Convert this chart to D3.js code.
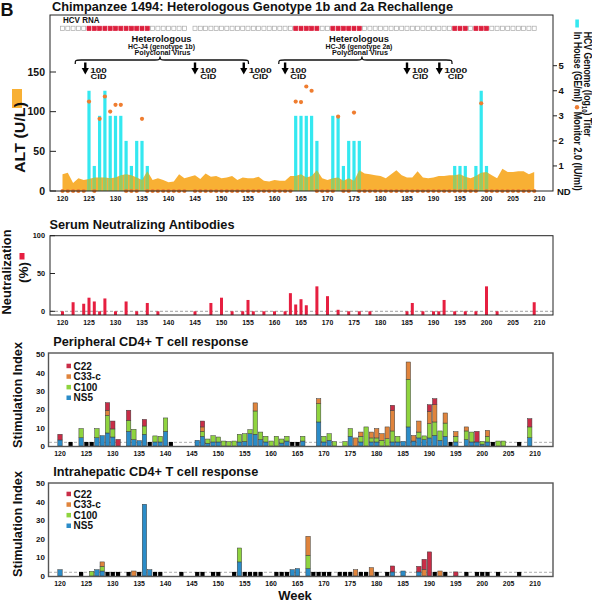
<!DOCTYPE html>
<html><head><meta charset="utf-8">
<script src="https://cdn.jsdelivr.net/npm/d3@7"></script>
<style>
body{margin:0;background:#fff}
svg{display:block}
text{font-family:"Liberation Sans",Arial,Helvetica,sans-serif;font-weight:bold;fill:#111}
</style></head>
<body><svg id="c" width="592" height="602"></svg>
<script>
// ---------------- DATA ----------------
const xTickWeeks = [120,125,130,135,140,145,150,155,160,165,170,175,180,185,190,195,200,205,210];
const altWeeks = [120,121,122,123,124,125,126,127,128,129,130,131,132,133,134,135,136,137,138,139,140,141,142,143,144,145,146,147,148,149,150,151,152,153,154,155,156,157,158,159,160,161,162,163,164,165,166,167,168,169,170,171,172,173,174,175,176,177,178,179,180,181,182,183,184,185,186,187,188,189,190,191,192,193,194,195,196,197,198,199,200,201,202,203,204,205,206,207,208,209];
const altValues = [21,23,10,16,14,15,17,17,17,16, 17,20,21,20,17,14,25,14,16,14, 11,12,21,16,18,20,15,22,18,19, 16,17,19,14,17,16,16,18,13,12, 14,13,13,19,19,21,17,19,26,16, 14,16,17,13,16,13,26,22,21,20, 19,16,21,26,20,17,17,25,17,16, 17,19,19,20,20,21,18,16,19,23, 24,20,16,28,24,24,25,25,21,24];
const sampleWeeks = [120,121,122,123,124,125,126,127,128,129,130,131,132,133,134,135,136,137,138,139,140,141,142,143,145,146,147,148,149,150,151,152,153,154,155,156,157,158,159,160,161,162,163,164,165,166,167,168,169,170,171,172,173,174,175,176,177,178,179,180,181,182,183,184,185,186,187,188,189,190,191,192,193,194,195,196,197,198,199,200,201,202,203,204,205,206,207,208,209];
const rnaPositiveWeeks = [125,126,127,128,129,130,131,132,133,134,135,136,164,165,166,167,168,171,172,173,174,175,176,194,195,196,198,199,200];
const inHouseWeeks = [125,126,127,128,129,130,131,132,133,134,135,136,164,165,166,167,168,171,172,173,174,175,176,194,195,196,198,199,200];
const inHouseLog   = [4,1,3,4,3,3,3,2,1,2,2,1, 3,3,3,3,2, 3,3,1,2,2,2, 1,1,1,1,4,1];
const monitorWeeks = [125,127,128,129,130,131,135,164,165,166,167,172,175,199];
const monitorLog   = [3.57,2.88,3.77,3.17,3.44,3.44,2.88,3.57,3.55,4.17,4.0,2.97,3.13,3.5];
const inocWeeks  = [124.3,145,154.2,162,185,191.1];
const inocDoses  = ["100","100","1000","100","100","1000"];
const virusLabels = [["Heterologous","HC-J4 (genotype 1b)","Polyclonal Virus"],["Heterologous","HC-J6 (genotype 2a)","Polyclonal Virus"]];
const braceWeeks = [[122.4,138.4,155.1],[160.8,176.5,193.5]];

const neutWeeks  = [120,122,124,125,126,127,128,130,132,134,136,138,145,148,150,152,154,155,156,158,160,162,163,164,165,166,168,170,172,174,176,178,185,186,188,190,191,192,194,196,198,200,202,209];
const neutValues = [0,12,10,18,13,0,17,0,13,0,11,0,0,11,18,0,0,15,0,0,0,0,24,9,16,8,33,20,2,0,0,0,0,11,0,0,0,15,0,0,0,33,0,12];

const antigens = ["NS5","C100","C33-c","C22"];
const antigenColors = ["#2b8cc8","#8fd43f","#e0843c","#c92d47"];
const legendOrder = ["C22","C33-c","C100","NS5"];

const periphWeeks = [120,124,127,128,129,130,131,133,134,135,136,138,139,140,146,147,148,149,150,151,152,153,154,155,156,157,158,159,160,161,162,163,166,169,170,171,172,174,175,176,177,178,179,180,181,182,183,184,185,186,187,188,189,190,191,192,193,195,197,198,199,200,201,203,204,209];
const periphNS5  = [3.3,4.5,4.5,5.6,7.1,4.9,0,8,3.5,2.9,6.4,2.2,2.2,8,3.1,5.3,1.5,2.2,2.2,0,0,0,2.2,2.5,6.7,6.4,3.5,2.2,0,0,1.6,2.7,2.7,13.1,2.2,3.1,0,0,5.3,0,2.2,0,2.2,2.2,0,0,2.2,2.2,2.5,10.4,2.7,4.4,3.5,4.4,5.8,3.1,5.3,2.2,3.5,2.2,2.2,1,2.2,0,0,4.5];
const periphC100 = [0,5,5,0,9.6,4.4,0,6,5.6,0,4.5,3.3,3.1,7.3,0,2.7,2.3,3.4,2.7,2.7,2.4,2.7,4.2,4.2,2.2,12.7,4.1,3.1,2.7,5.3,2.2,2.6,2.6,10,3.1,3.6,2.4,2.4,4.2,0,3.1,10.4,2.2,2.2,3.1,4,6,3.1,0,26,0,3.2,2,7.8,7.3,5.1,7.2,3.1,4.7,5.4,0,1.5,3.1,2.7,2.7,5.9];
const periphC33  = [0,0,0,0,2.8,0,0,0,0,0,0,0,0,0,0,2.4,0,0,0,0,0,0,0,0,0,4.4,0,0,0,0,0,0,0,2.7,0,0,0,0,0,4.4,2.3,0,3.2,5.1,3.6,6.4,11.3,0,0,9.4,3,6,0,6.7,9.4,0,5.5,2.5,2.2,0,0,0,3.2,0,0,0];
const periphC22  = [3.1,0,0,0,4.1,4.3,3.6,5.5,0,0,3.6,0,0,0,0,3.2,0,0,0,0,0,0,0,0,0,0,0,0,0,0,0,0,0,0,0,0,0,0,0,0,0,0,0,0,0,0,2.7,0,0,0,0,0,0,3.6,3.3,0,0,0,0,0,5.8,0,0,0,0,4.5];
const periphNegWeeks = [122,125,126,137,141,164,165,194,202,207];

const hepWeeks = [120,126,127,128,134,136,137,154,164,165,167,176,179,183,185,188,189,190,192,195];
const hepNS5   = [3.4,0,3.4,2.7,0,38.7,3.4,7.6,3.4,4,4,0,0,2.2,2.7,2.2,0,0,0,0];
const hepC100  = [0,2.5,0,2.5,0,0,0,7.5,0,0,7.2,0,0,0,0,0,0,0,0,0];
const hepC33   = [0,0,0,2.4,2.7,0,0,0,0,0,10.2,3.4,4.5,0,0,0,3.6,0,2.7,0];
const hepC22   = [0,0,0,0,0,0,0,0,0,0,0,0,0,3.2,0,3,5.4,13,0,2.2];
const hepNegWeeks = [124,129,130,131,133,135,138,139,143,146,147,149,150,153,155,156,157,158,161,162,163,168,169,170,171,173,174,175,177,178,180,182,191,193,197,199,200,201,203,207];
const negSI = 2.2;

const altTicks = [0,50,100,150];
const hcvTicks = [1,2,3,4,5];
const neutTicks = [0,50,100];
const siTicks = [0,10,20,30,40,50];

// ---------------- DRAW ----------------
const svg = d3.select("#c");
function T(p, x, y, s, size, o = {}) {
  const t = p.append("text").attr("font-size", size).text(s);
  if (o.rot != null) t.attr("transform", `translate(${x},${y}) rotate(${o.rot})`);
  else t.attr("x", x).attr("y", y);
  if (o.anchor) t.attr("text-anchor", o.anchor);
  if (o.len) t.attr("textLength", o.len).attr("lengthAdjust", "spacingAndGlyphs");
  if (o.fill) t.style("fill", o.fill);
  return t;
}

const xTop = d3.scaleLinear().domain([120, 210]).range([62.5, 539.5]);
const xCD  = d3.scaleLinear().domain([120, 210]).range([60, 535]);
const yAlt = d3.scaleLinear().domain([0, 150]).range([191, 72]);
const yHcv = d3.scaleLinear().domain([0, 5]).range([191, 65.7]);
const yNeu = d3.scaleLinear().domain([0, 100]).range([311.3, 235.7]);
const yP   = d3.scaleLinear().domain([0, 50]).range([446, 354.3]);
const yI   = d3.scaleLinear().domain([0, 50]).range([576, 483.3]);

T(svg, 0.5, 15.5, "B", 18);
T(svg, 52, 10.5, "Chimpanzee 1494: Heterologous Genotype 1b and 2a Rechallenge", 12.5, {len: 401});

// ===== Top panel =====
const tg = svg.append("g");
const altData = altWeeks.map((w, i) => ({w, v: altValues[i]}));
const area = d3.area().x(d => xTop(d.w)).y0(yAlt(0)).y1(d => yAlt(d.v));
svg.append("defs").append("clipPath").attr("id", "altClip").append("path").attr("d", area(altData));
tg.append("path").attr("d", area(altData)).attr("fill", "#f8b034");

const inHouse = inHouseWeeks.map((w, i) => ({w, v: inHouseLog[i]}));
const bw = 3.2;
tg.append("g").selectAll("rect").data(inHouse).join("rect")
  .attr("x", d => xTop(d.w) - bw / 2).attr("width", bw)
  .attr("y", d => yHcv(d.v)).attr("height", d => yHcv(0) - yHcv(d.v)).attr("fill", "#34e8f0");
tg.append("g").attr("clip-path", "url(#altClip)").selectAll("rect").data(inHouse).join("rect")
  .attr("x", d => xTop(d.w) - bw / 2).attr("width", bw)
  .attr("y", d => yHcv(d.v)).attr("height", d => yHcv(0) - yHcv(d.v)).attr("fill", "#9cc95c");

const monitor = sampleWeeks.map(w => {
  const i = monitorWeeks.indexOf(w);
  return {w, v: i >= 0 ? monitorLog[i] : 0};
});
tg.append("g").selectAll("circle").data(monitor).join("circle")
  .attr("cx", d => xTop(d.w)).attr("cy", d => yHcv(d.v)).attr("r", 2.1).attr("fill", "#ef7d30");

tg.append("rect").attr("x", 50).attr("y", 15).attr("width", 503).attr("height", 176)
  .attr("fill", "none").attr("stroke", "#222").attr("stroke-width", 1);

T(tg, 63, 23.3, "HCV RNA", 8.5, {len: 36.5});
tg.append("g").selectAll("rect").data(sampleWeeks).join("rect")
  .attr("x", w => xTop(w) - 2).attr("y", 26.2).attr("width", 4).attr("height", 4.4)
  .attr("fill", w => rnaPositiveWeeks.includes(w) ? "#dc1f3d" : "#fff")
  .attr("stroke", w => rnaPositiveWeeks.includes(w) ? "#dc1f3d" : "#aaa").attr("stroke-width", 0.7);

braceWeeks.forEach((b, i) => {
  const x1 = xTop(b[0]), xm = xTop(b[1]), x2 = xTop(b[2]);
  const y = 60, ye = 64, yp = 56.5;
  tg.append("path").attr("d",
    `M${x1},${ye} C${x1},${y} ${x1},${y} ${x1+6},${y} L${xm-5},${y} C${xm-1},${y} ${xm},${y} ${xm},${yp} C${xm},${y} ${xm+1},${y} ${xm+5},${y} L${x2-6},${y} C${x2},${y} ${x2},${y} ${x2},${ye}`)
    .attr("fill", "none").attr("stroke", "#111").attr("stroke-width", 1.3);
  const cx = xm + (i === 0 ? 1.5 : -3);
  T(tg, cx, 41.5, virusLabels[i][0], 9.5, {anchor: "middle", len: 60});
  T(tg, cx, 48.5, virusLabels[i][1], 7, {anchor: "middle", len: 67});
  T(tg, cx + 1, 54.6, virusLabels[i][2], 7, {anchor: "middle", len: 56});
});

inocWeeks.forEach((w, i) => {
  const x = xTop(w);
  tg.append("rect").attr("x", x - 1.2).attr("y", 62.5).attr("width", 2.4).attr("height", 6).attr("fill", "#000");
  tg.append("path").attr("d", `M${x-3.6},68 L${x+3.6},68 L${x},74.6 Z`).attr("fill", "#000");
  const L = inocDoses[i].length === 4 ? 23 : 16.5;
  T(tg, x + 5, 72.9, inocDoses[i], 6.8, {len: L});
  T(tg, x + 5 + L / 2, 78.8, "CID", 6.8, {anchor: "middle", len: 16});
});

altTicks.forEach(v => {
  tg.append("line").attr("x1", 50).attr("x2", 56).attr("y1", yAlt(v)).attr("y2", yAlt(v)).attr("stroke", "#222");
  T(tg, 45, yAlt(v) + 3.8, v, 10.5, {anchor: "end"});
});
hcvTicks.forEach(v => {
  tg.append("line").attr("x1", 553).attr("x2", 557).attr("y1", yHcv(v)).attr("y2", yHcv(v)).attr("stroke", "#222");
  T(tg, 558.5, yHcv(v) + 3.3, v, 9.5);
});
T(tg, 557, 194.6, "ND", 9.5);
xTickWeeks.forEach(w => T(tg, xTop(w), 201, w, 7.5, {anchor: "middle", len: 11.5}));

tg.append("rect").attr("x", 12).attr("y", 89).attr("width", 10).attr("height", 19).attr("fill", "#f8b034");
T(tg, 24.5, 137.5, "ALT (U/L)", 15, {rot: -90, anchor: "middle", len: 71});
tg.append("rect").attr("x", 575.3).attr("y", 19.5).attr("width", 3.6).attr("height", 8).attr("fill", "#34e8f0");
const hg = T(tg, 584.3, 84.2, "", 10, {rot: 90, anchor: "middle", len: 105});
hg.append("tspan").text("HCV Genome (log");
hg.append("tspan").attr("font-size", 7).attr("dy", 2).text("10");
hg.append("tspan").attr("dy", -2).text(") Titer");
T(tg, 573.6, 66.8, "In House (GE/ml)", 10, {rot: 90, anchor: "middle", len: 70});
tg.append("circle").attr("cx", 577).attr("cy", 107.3).attr("r", 2.2).attr("fill", "#ef7d30");
T(tg, 573.6, 151.2, "Monitor 2.0 (IU/ml)", 10, {rot: 90, anchor: "middle", len: 79});

// ===== Neutralization panel =====
const np = svg.append("g");
T(np, 49.5, 229, "Serum Neutralizing Antibodies", 12.6, {len: 185});
np.append("line").attr("x1", 50).attr("x2", 553).attr("y1", yNeu(0)).attr("y2", yNeu(0))
  .attr("stroke", "#888").attr("stroke-width", 0.8).attr("stroke-dasharray", "3,2");
np.append("g").selectAll("rect").data(neutWeeks.map((w, i) => ({w, v: neutValues[i]}))).join("rect")
  .attr("x", d => xTop(d.w) - 1.5).attr("width", 3)
  .attr("y", d => yNeu(d.v)).attr("height", d => 315 - yNeu(d.v)).attr("fill", "#e61f40");
np.append("rect").attr("x", 50).attr("y", 235.7).attr("width", 503).attr("height", 79.3)
  .attr("fill", "none").attr("stroke", "#222").attr("stroke-width", 1);
neutTicks.forEach(v => {
  np.append("line").attr("x1", 50).attr("x2", 55).attr("y1", yNeu(v)).attr("y2", yNeu(v)).attr("stroke", "#222");
  T(np, 45, yNeu(v) + 2.6, v, 7.3, {anchor: "end"});
});
xTickWeeks.forEach(w => T(np, xTop(w), 325.3, w, 7.5, {anchor: "middle", len: 11.5}));
T(np, 11, 272, "Neutralization", 13, {rot: -90, anchor: "middle", len: 85});
T(np, 28, 272.5, "(%)", 13, {rot: -90, anchor: "middle", len: 21});
np.append("rect").attr("x", 19.5).attr("y", 253).attr("width", 5).attr("height", 6.5).attr("fill", "#e61f40");

// ===== CD4 panels =====
function cdPanel(yS, top0, bottom0, title, titleY, titleLen, weeks, ns5, c100, c33, c22, negWeeks, labelY, legendY, siCenter) {
  const g = svg.append("g");
  T(g, 53.3, titleY, title, 12.6, {len: titleLen});
  g.append("line").attr("x1", 49).attr("x2", 553).attr("y1", yS(2)).attr("y2", yS(2))
    .attr("stroke", "#999").attr("stroke-width", 0.8).attr("stroke-dasharray", "3,2");
  const rows = weeks.map((w, i) => ({w, "NS5": ns5[i], "C100": c100[i], "C33-c": c33[i], "C22": c22[i]}));
  const series = d3.stack().keys(antigens)(rows);
  const bw2 = 4.4;
  series.forEach((s, k) => {
    g.append("g").selectAll("rect").data(s.filter(d => d[1] - d[0] > 0)).join("rect")
      .attr("x", d => xCD(d.data.w) - bw2 / 2).attr("width", bw2)
      .attr("y", d => yS(d[1])).attr("height", d => yS(d[0]) - yS(d[1]))
      .attr("fill", antigenColors[k]).attr("stroke", "#3a3a3a").attr("stroke-width", 0.5);
  });
  g.append("g").selectAll("rect").data(negWeeks).join("rect")
    .attr("x", w => xCD(w) - 2.1).attr("width", 4.2)
    .attr("y", yS(negSI)).attr("height", yS(0) - yS(negSI)).attr("fill", "#000");
  g.append("rect").attr("x", 48.5).attr("y", top0).attr("width", 504.5).attr("height", bottom0 - top0)
    .attr("fill", "none").attr("stroke", "#555").attr("stroke-width", 1.4);
  siTicks.forEach(v => T(g, 45, yS(v) + 2.9, v, 8, {anchor: "end"}));
  xTickWeeks.forEach(w => T(g, xCD(w), labelY, w, 7.5, {anchor: "middle", len: 11.5}));
  legendOrder.forEach((a, i) => {
    const y = legendY + i * 10.6;
    g.append("rect").attr("x", 66.5).attr("y", y - 2.3).attr("width", 4.5).attr("height", 4.5)
      .attr("fill", antigenColors[antigens.indexOf(a)]);
    T(g, 73.5, y + 3.6, a, 10);
  });
  T(g, 22, siCenter, "Stimulation Index", 13, {rot: -90, anchor: "middle", len: 106});
}
cdPanel(yP, 353, 446.5, "Peripheral CD4+ T cell response", 345.5, 195,
  periphWeeks, periphNS5, periphC100, periphC33, periphC22, periphNegWeeks, 456, 366, 395);
cdPanel(yI, 483, 576.5, "Intrahepatic CD4+ T cell response", 475.5, 205,
  hepWeeks, hepNS5, hepC100, hepC33, hepC22, hepNegWeeks, 585.6, 494, 524);

T(svg, 295, 600, "Week", 13, {anchor: "middle"});
</script></body></html>
